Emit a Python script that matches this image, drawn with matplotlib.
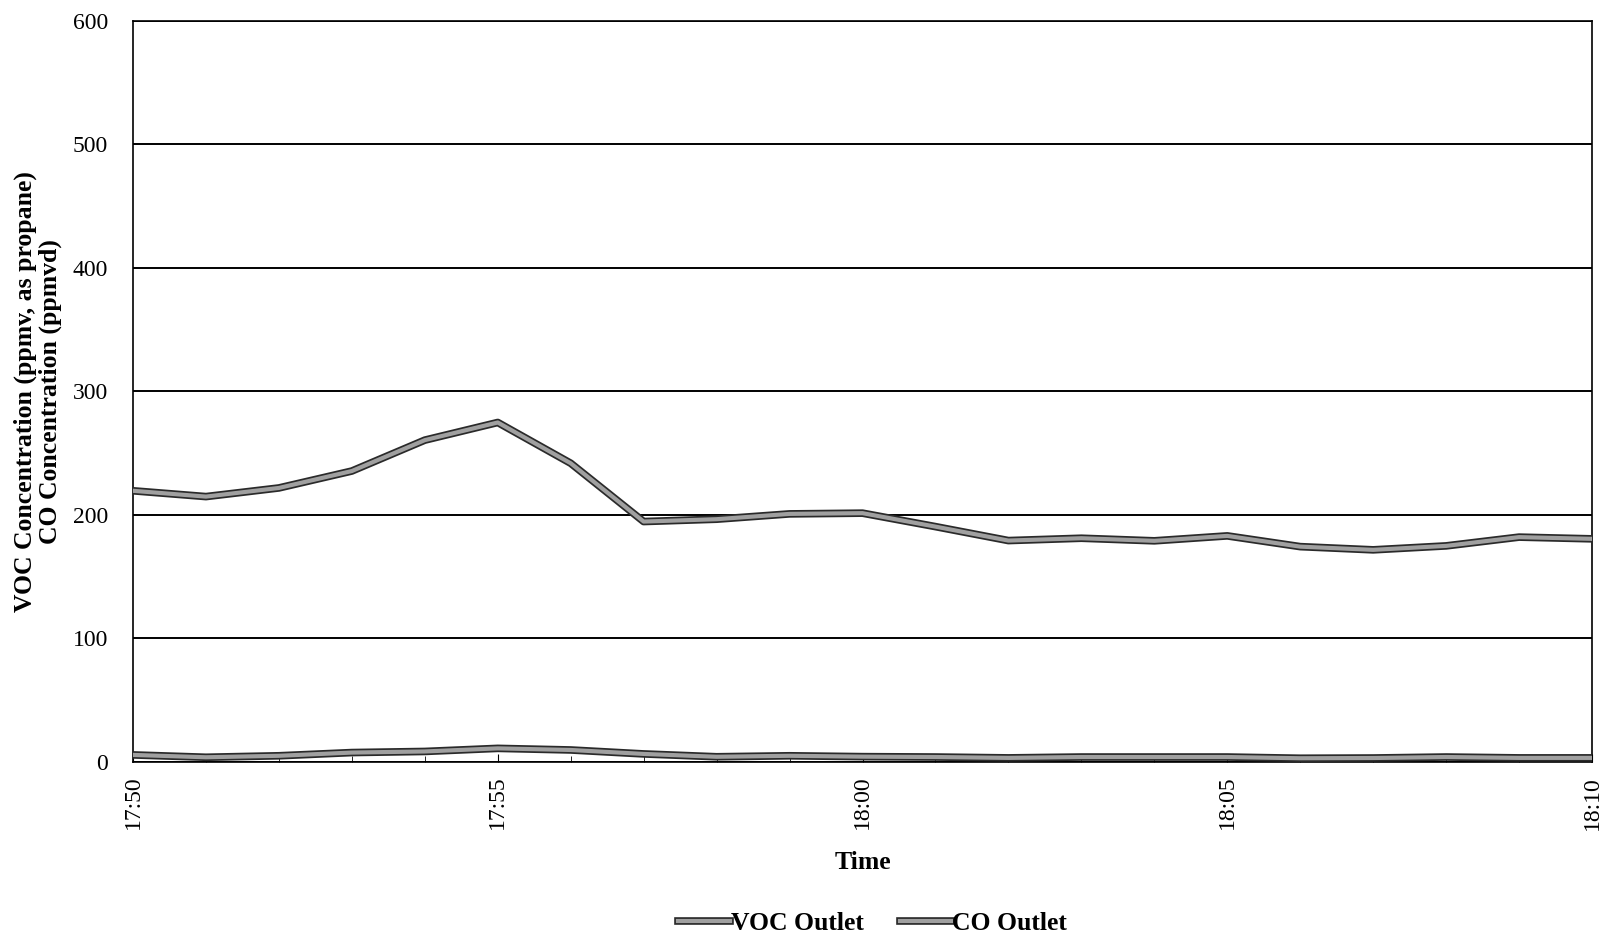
import matplotlib
matplotlib.use("Agg")
import matplotlib.pyplot as plt
import matplotlib.dates as mdates
import matplotlib.patheffects as pe
import pandas as pd

times = ["17:50", "17:51", "17:52", "17:53", "17:54", "17:55", "17:56", "17:57",
         "17:58", "17:59", "18:00", "18:01", "18:02", "18:03", "18:04", "18:05",
         "18:06", "18:07", "18:08", "18:09", "18:10"]
voc_outlet = [219.5, 214.8, 221.8, 235.5, 260.5, 274.8, 241.8, 194.6,
              196.5, 200.8, 201.4, 190.5, 179.2, 181.1, 179.0, 183.0,
              174.3, 171.7, 174.9, 182.0, 180.6]
co_outlet = [5.7, 3.8, 5.0, 7.6, 8.5, 11.0, 9.7, 6.5,
             4.2, 5.0, 4.3, 4.0, 3.3, 4.0, 4.0, 4.0,
             3.0, 3.2, 4.0, 3.3, 3.3]
y_ticks = [0, 100, 200, 300, 400, 500, 600]
x_label_times = ["17:50", "17:55", "18:00", "18:05", "18:10"]

plt.rcParams['font.family'] = ['Liberation Serif', 'DejaVu Serif']

x = pd.to_datetime(["2000-01-01 " + t for t in times])
xl = pd.to_datetime(["2000-01-01 " + t for t in x_label_times])

fig = plt.figure(figsize=(16.12, 9.34), dpi=100)
ax = fig.add_axes([0.0825, 0.1842, 0.9051, 0.7936])

effects = [pe.Stroke(linewidth=5.5, foreground="#2a2a2a"),
           pe.Stroke(linewidth=3.0, foreground="#a0a0a0")]
ax.plot(x, voc_outlet, color="#a0a0a0", lw=5.5, label="VOC Outlet",
        path_effects=effects, zorder=3)
ax.plot(x, co_outlet, color="#a0a0a0", lw=5.5, label="CO Outlet",
        path_effects=effects, zorder=3)

ax.set_ylim(0, 600)
ax.set_xlim(x[0], x[-1])
ax.set_yticks(y_ticks)
ax.yaxis.grid(True, color="black", lw=1.4)
ax.set_axisbelow(True)
ax.tick_params(axis="y", length=0, pad=18, labelsize=17)

ax.set_xticks(x, minor=True)
ax.set_xticks(xl)
ax.xaxis.set_major_formatter(mdates.DateFormatter("%H:%M"))
ax.tick_params(axis="x", which="major", direction="in", length=6, pad=10,
               labelsize=17, labelrotation=90)
ax.tick_params(axis="x", which="minor", direction="in", length=4)
for lab in ax.get_xticklabels():
    lab.set_va("top")

for s in ax.spines.values():
    s.set_color("black")
    s.set_linewidth(1.2)

ax.set_ylabel("VOC Concentration (ppmv, as propane)\nCO Concentration (ppmvd)",
              fontsize=18.5, fontweight="bold", labelpad=8, linespacing=1.05)
ax.set_xlabel("Time", fontsize=18.5, fontweight="bold", labelpad=15.5)

leg = ax.legend(loc="center", bbox_to_anchor=(0.507, -0.2185), ncol=2, frameon=False,
                prop={"weight": "bold", "size": 18.5},
                handlelength=2.0, handletextpad=0.05, columnspacing=1.4)

fig.savefig("out.png", dpi=100)
